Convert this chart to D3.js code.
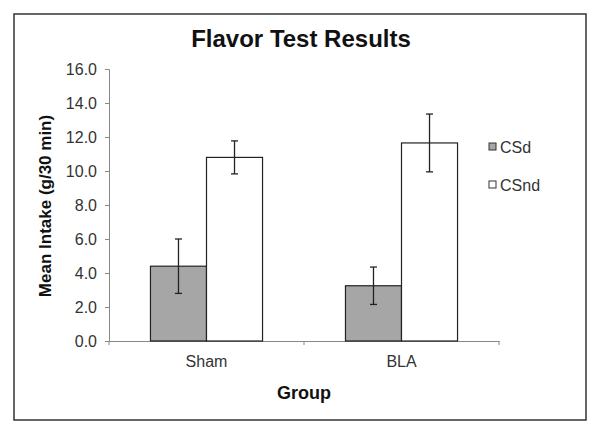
<!DOCTYPE html>
<html><head><meta charset="utf-8">
<script src="https://cdn.jsdelivr.net/npm/d3@7"></script>
<style>body{margin:0;background:#fff}svg{display:block;font-family:Arial,"Liberation Sans",sans-serif}</style>
</head><body>
<script>
const groups = ["Sham", "BLA"];
const seriesNames = ["CSd", "CSnd"];
const csdMeans = [4.4, 3.25];
const csdErrors = [1.6, 1.1];
const csndMeans = [10.8, 11.65];
const csndErrors = [0.97, 1.7];
const yTicks = [0, 2, 4, 6, 8, 10, 12, 14, 16];
const seriesColors = ["#a6a6a6", "#ffffff"];

const W = 601, H = 438;
const FONT = "Arial, Liberation Sans, sans-serif";
const svg = d3.select("body").append("svg").attr("width", W).attr("height", H);
svg.append("rect").attr("x", 14).attr("y", 14).attr("width", 572).attr("height", 406)
  .attr("fill", "#fff").attr("stroke", "#333").attr("stroke-width", 1.5);

const plot = {left: 109, right: 499, top: 69, bottom: 341};
const x = d3.scaleBand().domain(groups).range([plot.left, plot.right]).paddingInner(0).paddingOuter(0);
const xs = d3.scaleBand().domain(seriesNames).range([0, x.bandwidth()]).paddingInner(0).paddingOuter(0.74);
const y = d3.scaleLinear().domain([0, 16]).range([plot.bottom, plot.top]);

svg.append("text").attr("x", 301).attr("y", 47).attr("text-anchor", "middle")
  .attr("font-size", 24).attr("font-weight", "bold").attr("fill", "#111").text("Flavor Test Results");

// y axis
const ya = svg.append("g").attr("transform", `translate(${plot.left},0)`)
  .call(d3.axisLeft(y).tickValues(yTicks).tickFormat(d3.format(".1f")).tickSizeOuter(0).tickSize(4).tickPadding(8));
ya.select(".domain").attr("stroke", "#888");
ya.selectAll(".tick line").attr("stroke", "#888");
ya.selectAll("text").attr("font-size", 16).attr("fill", "#333").attr("font-family", FONT);

// x axis
const xa = svg.append("g").attr("transform", `translate(0,${plot.bottom})`)
  .call(d3.axisBottom(x).tickSize(0).tickPadding(15));
xa.select(".domain").attr("stroke", "#888");
xa.selectAll("text").attr("font-size", 16).attr("fill", "#333").attr("font-family", FONT);
const bounds = [plot.left, ...groups.map(g => x(g) + x.bandwidth())];
xa.selectAll(".btick").data(bounds).enter().append("line")
  .attr("x1", d => d).attr("x2", d => d).attr("y1", 0).attr("y2", 4).attr("stroke", "#888");

const data = [];
groups.forEach((g, i) => {
  data.push({g, s: "CSd", v: csdMeans[i], e: csdErrors[i]});
  data.push({g, s: "CSnd", v: csndMeans[i], e: csndErrors[i]});
});
const color = d3.scaleOrdinal().domain(seriesNames).range(seriesColors);

svg.selectAll(".bar").data(data).enter().append("rect")
  .attr("x", d => x(d.g) + xs(d.s)).attr("width", xs.bandwidth())
  .attr("y", d => y(d.v)).attr("height", d => y(0) - y(d.v))
  .attr("fill", d => color(d.s)).attr("stroke", "#222").attr("stroke-width", 1.2);

const eb = svg.selectAll(".eb").data(data).enter().append("g");
const cx = d => x(d.g) + xs(d.s) + xs.bandwidth() / 2;
eb.append("line").attr("x1", cx).attr("x2", cx).attr("y1", d => y(d.v + d.e)).attr("y2", d => y(d.v - d.e))
  .attr("stroke", "#222").attr("stroke-width", 1.3);
eb.append("line").attr("x1", d => cx(d) - 3.5).attr("x2", d => cx(d) + 3.5).attr("y1", d => y(d.v + d.e)).attr("y2", d => y(d.v + d.e))
  .attr("stroke", "#222").attr("stroke-width", 1.3);
eb.append("line").attr("x1", d => cx(d) - 3.5).attr("x2", d => cx(d) + 3.5).attr("y1", d => y(d.v - d.e)).attr("y2", d => y(d.v - d.e))
  .attr("stroke", "#222").attr("stroke-width", 1.3);

// y title
svg.append("text").attr("transform", "translate(51,206) rotate(-90)").attr("text-anchor", "middle")
  .attr("font-size", 17).attr("font-weight", "bold").attr("fill", "#111").text("Mean Intake (g/30 min)");
// x title
svg.append("text").attr("x", 304).attr("y", 399).attr("text-anchor", "middle")
  .attr("font-size", 18).attr("font-weight", "bold").attr("fill", "#111").text("Group");

// legend
const lg = svg.selectAll(".lg").data(seriesNames).enter().append("g")
  .attr("transform", (d, i) => `translate(489,${143 + i * 38})`);
lg.append("rect").attr("width", 7).attr("height", 7).attr("fill", d => color(d)).attr("stroke", "#333").attr("stroke-width", 1);
lg.append("text").attr("x", 11).attr("y", 9.5).attr("font-size", 16).attr("fill", "#333").text(d => d);
</script>
</body></html>
